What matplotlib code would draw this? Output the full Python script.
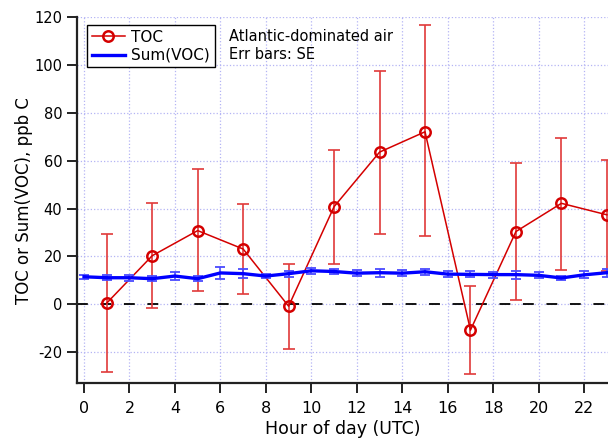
#!/usr/bin/env python
"""
Diurnal TOC vs Sum(VOC) for Atlantic-dominated air.
"""

import matplotlib
matplotlib.use('Agg')
import matplotlib.pyplot as plt
import numpy as np

# TOC, odd hours only
toc_hour = [1, 3, 5, 7, 9, 11, 13, 15, 17, 19, 21, 23]
toc = [0.5, 20.3, 30.8, 23.1, -0.8, 40.8, 63.6, 72.1, -10.8, 30.4, 42.2, 37.4]
toc_hi = [29.3, 42.2, 56.5, 42.0, 17.0, 64.6, 97.5, 116.7, 7.6, 58.9, 69.7, 60.5]
toc_lo = [-28.3, -1.4, 5.7, 4.4, -18.6, 16.8, 29.4, 28.5, -29.3, 1.7, 14.4, 14.0]

# Sum(VOC), every hour
voc_hour = list(range(24))
voc = [11.5, 11.1, 11.1, 10.7, 11.8, 10.7, 13.1, 12.8, 11.8, 12.8, 14.0, 13.7,
       13.0, 13.2, 13.0, 13.6, 12.6, 12.5, 12.4, 12.4, 12.1, 11.0, 12.3, 13.2]
voc_se = [0.8, 1.1, 1.2, 1.0, 1.7, 1.1, 2.4, 1.9, 0.8, 1.2, 1.2, 1.0,
          1.25, 1.6, 1.2, 1.25, 1.2, 1.3, 1.3, 1.7, 1.25, 0.9, 1.5, 1.7]

x_ticks = list(range(0, 24, 2))
y_ticks = [-20, 0, 20, 40, 60, 80, 100, 120]


def main():
    plt.rcParams['axes.unicode_minus'] = False

    fig = plt.figure(figsize=(6.08, 4.41), dpi=100)
    ax = fig.add_axes([0.1266, 0.131, 0.8734, 0.830])

    red = '#d40000'
    blue = '#0000ff'

    ax.axhline(0, color='black', lw=1.3, dashes=(6, 7), zorder=1)

    toc_arr = np.array(toc)
    yerr = [toc_arr - np.array(toc_lo), np.array(toc_hi) - toc_arr]
    ax.errorbar(toc_hour, toc, yerr=yerr, fmt='none', ecolor='#e03a3a',
                elinewidth=1.2, capsize=4.3, capthick=1.2, zorder=3)
    ax.plot(toc_hour, toc, color=red, lw=1.1, marker='o', ms=7.5,
            mfc='none', mec=red, mew=1.8, label='TOC', zorder=4)

    ax.errorbar(voc_hour, voc, yerr=voc_se, fmt='none', ecolor='#4a4aff',
                elinewidth=1.2, capsize=3.3, capthick=1.3, zorder=5)
    ax.plot(voc_hour, voc, color=blue, lw=2.4, label='Sum(VOC)', zorder=6)

    ax.set_xlim(-0.31, 23.05)
    ax.set_ylim(-33, 120)
    ax.set_xticks(x_ticks)
    ax.set_yticks(y_ticks)
    ax.grid(True, color='#b4b4f4', ls=':', lw=0.9)
    ax.set_axisbelow(True)

    for side in ['top', 'right']:
        ax.spines[side].set_visible(False)
    for side in ['left', 'bottom']:
        ax.spines[side].set_linewidth(1.6)
        ax.spines[side].set_color('#222222')
    ax.tick_params(direction='out', length=7, width=1.4, color='#222222')
    ax.tick_params(axis='x', labelsize=11.5, pad=6)
    ax.tick_params(axis='y', labelsize=10.5, pad=3.5)

    ax.set_xlabel('Hour of day (UTC)', fontsize=12.5, labelpad=3)
    ax.set_ylabel('TOC or Sum(VOC), ppb C', fontsize=12, labelpad=1)

    leg = ax.legend(loc='upper left', bbox_to_anchor=(0.0188, 0.978),
                    fontsize=11, frameon=True, fancybox=False,
                    handlelength=2.2, borderpad=0.3, labelspacing=0.2,
                    handletextpad=0.4, borderaxespad=0)
    leg.get_frame().set_edgecolor('black')
    leg.get_frame().set_linewidth(1.0)
    leg.get_frame().set_alpha(1)

    ax.text(0.286, 0.968, 'Atlantic-dominated air\nErr bars: SE',
            transform=ax.transAxes, fontsize=10.5, va='top', ha='left',
            linespacing=1.25)

    fig.savefig('out.png', dpi=100)


if __name__ == "__main__":
    main()
